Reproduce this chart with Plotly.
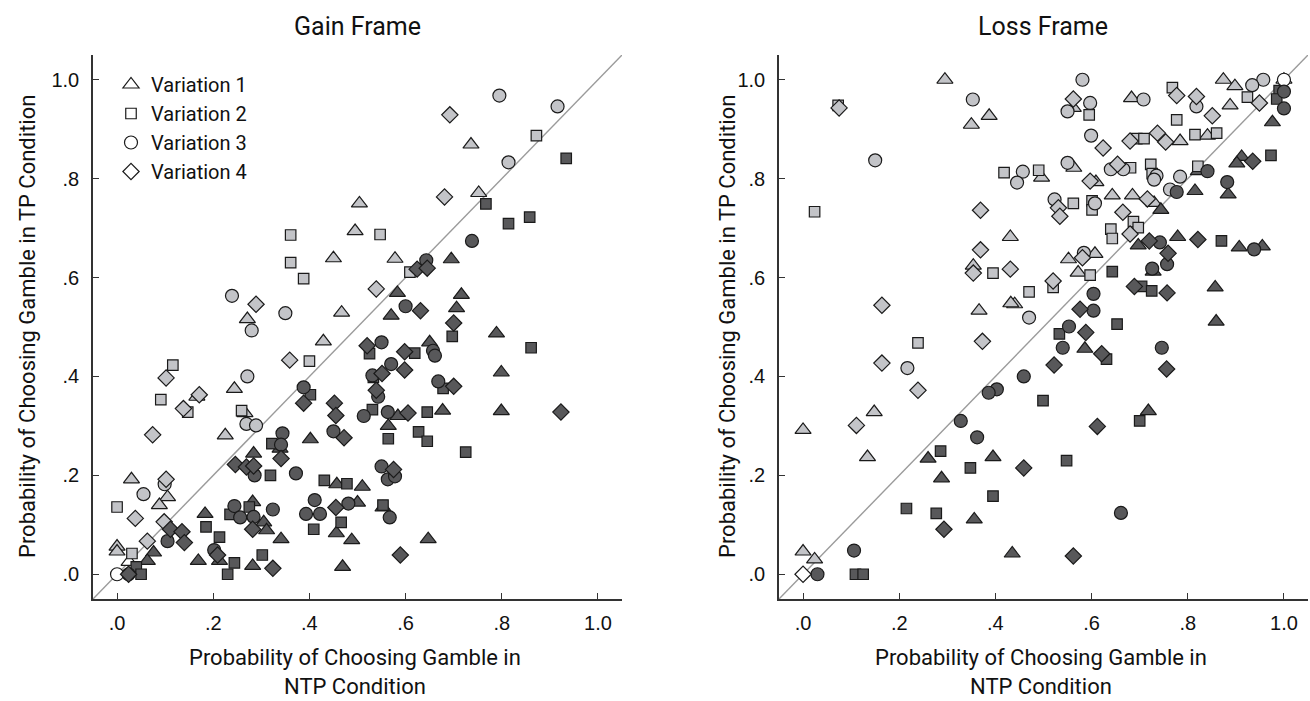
import plotly.graph_objects as go

# ---------------- data (NTP = x, TP = y) ----------------
gain_v1_ntp = [0.504,0.495,0.450,0.467,0.271,0.736,0.752,0.578,0.695,0.583,0.570,0.716,0.706,0.789,0.650,0.799,0.584,0.677,0.799,0.564,0.510,0.500,0.553,0.488,0.647,0.429,0.244,0.166,0.266,0.225,0.402,0.339,0.284,0.457,0.030,0.105,0.088,0.000,0.000,0.025,0.076,0.063,0.183,0.282,0.305,0.311,0.169,0.213,0.282,0.341,0.456,0.469]
gain_v1_tp  = [0.750,0.694,0.639,0.529,0.516,0.869,0.771,0.638,0.637,0.569,0.523,0.565,0.538,0.487,0.469,0.408,0.320,0.331,0.330,0.300,0.177,0.145,0.135,0.069,0.071,0.471,0.375,0.359,0.326,0.281,0.273,0.254,0.244,0.182,0.192,0.156,0.140,0.056,0.046,0.025,0.044,0.027,0.122,0.146,0.105,0.089,0.027,0.027,0.017,0.071,0.083,0.015]

gain_v2_ntp = [0.361,0.361,0.388,0.872,0.934,0.767,0.814,0.858,0.547,0.609,0.697,0.861,0.525,0.619,0.533,0.678,0.531,0.645,0.564,0.627,0.645,0.725,0.553,0.400,0.116,0.091,0.147,0.259,0.000,0.031,0.402,0.322,0.319,0.431,0.478,0.040,0.050,0.185,0.213,0.235,0.275,0.244,0.230,0.302,0.409,0.466]
gain_v2_tp  = [0.686,0.630,0.598,0.887,0.841,0.749,0.709,0.722,0.687,0.611,0.481,0.458,0.446,0.447,0.398,0.376,0.333,0.328,0.274,0.288,0.269,0.247,0.140,0.431,0.423,0.353,0.328,0.331,0.136,0.042,0.363,0.264,0.200,0.190,0.183,0.015,0.000,0.096,0.075,0.121,0.136,0.023,0.000,0.039,0.091,0.105]

gain_v3_ntp = [0.239,0.350,0.280,0.795,0.916,0.814,0.738,0.643,0.600,0.550,0.657,0.661,0.570,0.531,0.543,0.668,0.513,0.563,0.550,0.563,0.578,0.567,0.271,0.269,0.289,0.388,0.450,0.344,0.341,0.286,0.372,0.099,0.055,0.105,0.000,0.024,0.244,0.256,0.284,0.324,0.202,0.393,0.422,0.411,0.481]
gain_v3_tp  = [0.563,0.528,0.493,0.968,0.946,0.833,0.674,0.635,0.542,0.469,0.452,0.442,0.425,0.402,0.359,0.390,0.320,0.328,0.218,0.192,0.198,0.115,0.400,0.304,0.301,0.378,0.289,0.285,0.262,0.200,0.204,0.182,0.162,0.067,0.000,0.000,0.138,0.115,0.116,0.131,0.049,0.122,0.122,0.150,0.143]

gain_v4_ntp = [0.289,0.692,0.681,0.624,0.645,0.539,0.631,0.700,0.520,0.598,0.551,0.598,0.539,0.700,0.605,0.923,0.575,0.589,0.359,0.102,0.171,0.138,0.074,0.388,0.452,0.455,0.472,0.341,0.246,0.269,0.284,0.102,0.038,0.098,0.111,0.135,0.140,0.063,0.024,0.282,0.209,0.324,0.455]
gain_v4_tp  = [0.546,0.929,0.763,0.617,0.619,0.577,0.533,0.508,0.462,0.450,0.406,0.413,0.372,0.380,0.326,0.328,0.212,0.039,0.433,0.397,0.363,0.335,0.282,0.346,0.346,0.321,0.276,0.234,0.222,0.217,0.219,0.192,0.113,0.106,0.091,0.086,0.064,0.067,0.000,0.091,0.039,0.012,0.135]

loss_v1_ntp = [0.295,0.387,0.350,0.496,0.431,0.354,0.440,0.432,0.366,0.148,0.000,0.134,0.260,0.395,0.288,0.356,0.435,0.000,0.024,0.859,0.586,0.718,0.874,0.898,0.888,0.976,0.683,0.562,0.784,0.841,0.563,0.822,0.609,0.815,0.884,0.912,0.902,0.643,0.685,0.730,0.744,0.697,0.779,0.907,0.955,0.728,0.552,0.607,0.572,0.857,1.000]
loss_v1_tp  = [1.000,0.927,0.909,0.802,0.682,0.624,0.546,0.548,0.533,0.328,0.292,0.237,0.234,0.237,0.194,0.111,0.042,0.046,0.030,0.511,0.456,0.330,1.000,0.987,0.948,0.914,0.963,0.943,0.876,0.887,0.822,0.815,0.793,0.775,0.768,0.844,0.831,0.766,0.766,0.751,0.737,0.665,0.682,0.661,0.663,0.612,0.637,0.648,0.610,0.580,1.000]

loss_v2_ntp = [0.073,0.418,0.490,0.024,0.395,0.470,0.239,0.499,0.286,0.348,0.395,0.215,0.277,0.109,0.125,0.533,0.653,0.631,0.700,0.548,0.990,0.924,0.985,0.768,0.777,0.595,0.694,0.709,0.815,0.860,0.681,0.723,0.726,0.821,0.973,0.562,0.601,0.601,0.687,0.697,0.640,0.643,0.870,0.597,0.643,0.704,0.725,0.520]
loss_v2_tp  = [0.948,0.812,0.817,0.733,0.609,0.571,0.468,0.351,0.249,0.215,0.158,0.133,0.123,0.000,0.000,0.486,0.506,0.435,0.310,0.230,0.978,0.965,0.961,0.984,0.919,0.929,0.881,0.881,0.889,0.892,0.822,0.829,0.810,0.825,0.847,0.750,0.755,0.737,0.713,0.701,0.698,0.679,0.674,0.605,0.612,0.582,0.573,0.580]

loss_v3_ntp = [0.353,0.150,0.457,0.445,0.470,0.217,0.459,0.403,0.386,0.328,0.362,0.106,0.030,0.553,0.540,0.746,0.661,0.581,0.957,0.934,1.000,1.000,1.000,0.818,0.708,0.597,0.550,0.599,0.550,0.640,0.666,0.735,0.730,0.784,0.841,0.763,0.777,0.882,0.938,0.742,0.757,0.726,0.584,0.523,0.604,0.604,0.607]
loss_v3_tp  = [0.960,0.837,0.814,0.792,0.519,0.417,0.400,0.374,0.367,0.310,0.277,0.048,0.000,0.501,0.458,0.458,0.124,1.000,1.000,0.989,1.000,0.976,0.942,0.946,0.960,0.953,0.936,0.887,0.832,0.819,0.819,0.806,0.798,0.804,0.815,0.778,0.773,0.793,0.657,0.671,0.627,0.618,0.650,0.758,0.567,0.533,0.750]

loss_v4_ntp = [0.075,0.369,0.369,0.354,0.431,0.164,0.373,0.164,0.239,0.111,0.459,0.293,0.000,0.588,0.621,0.522,0.756,0.612,0.562,0.777,0.818,0.851,0.949,0.562,0.624,0.680,0.737,0.754,0.597,0.654,0.935,0.531,0.534,0.716,0.665,0.680,0.720,0.821,0.759,0.581,0.689,0.757,0.520,0.576]
loss_v4_tp  = [0.943,0.736,0.656,0.609,0.617,0.544,0.471,0.427,0.372,0.301,0.215,0.091,0.000,0.489,0.446,0.423,0.415,0.299,0.037,0.968,0.966,0.927,0.953,0.961,0.862,0.876,0.892,0.874,0.795,0.829,0.835,0.741,0.724,0.759,0.732,0.688,0.674,0.677,0.649,0.640,0.582,0.569,0.593,0.536]

variation_names = ["Variation 1", "Variation 2", "Variation 3", "Variation 4"]
tick_vals = [0.0, 0.2, 0.4, 0.6, 0.8, 1.0]
tick_text = [".0", ".2", ".4", ".6", ".8", "1.0"]
axis_range = [-0.05, 1.05]

# ---------------- styles ----------------
W, H = 1310, 701
LIGHT = "#c3c4c8"
DARK = "#58585a"
WHITE = "#ffffff"
EDGE = "#1a1a1a"
NARROW = "Liberation Sans Narrow, Roboto, sans-serif"
REG = "Liberation Sans, Arial, Helvetica, sans-serif"
symbols = ["triangle-up", "square", "circle", "diamond"]
sizes = [14, 10.5, 13, 12.5]


def fills(ntp, tp):
    out = []
    for a, b in zip(ntp, tp):
        out.append(LIGHT if b > a else (DARK if b < a else WHITE))
    return out


def px_x(p):
    return p / W


def px_y(p):
    return 1 - p / H


fig = go.Figure()

panels = [
    ("x", "y", [(gain_v1_ntp, gain_v1_tp), (gain_v2_ntp, gain_v2_tp),
                (gain_v3_ntp, gain_v3_tp), (gain_v4_ntp, gain_v4_tp)]),
    ("x2", "y2", [(loss_v1_ntp, loss_v1_tp), (loss_v2_ntp, loss_v2_tp),
                  (loss_v3_ntp, loss_v3_tp), (loss_v4_ntp, loss_v4_tp)]),
]

for xa, ya, series in panels:
    fig.add_trace(go.Scatter(x=axis_range, y=axis_range, mode="lines",
                             line=dict(color="#9b9b9b", width=1.4),
                             xaxis=xa, yaxis=ya, showlegend=False, hoverinfo="skip"))
    for i, (ntp, tp) in enumerate(series):
        fig.add_trace(go.Scatter(
            x=ntp, y=tp, mode="markers", xaxis=xa, yaxis=ya, showlegend=False,
            name=variation_names[i],
            marker=dict(symbol=symbols[i], size=sizes[i], color=fills(ntp, tp),
                        line=dict(color=EDGE, width=1.2))))

# legend entries (open markers)
for i, name in enumerate(variation_names):
    fig.add_trace(go.Scatter(x=[None], y=[None], mode="markers", name=name,
                             xaxis="x", yaxis="y",
                             marker=dict(symbol=symbols[i], size=sizes[i], color=WHITE,
                                         line=dict(color=EDGE, width=1.2))))

plot_top, plot_bot = 55, 599
ydom = [px_y(plot_bot), px_y(plot_top)]

axis_common = dict(range=axis_range, tickvals=tick_vals, ticktext=tick_text,
                   showline=True, linecolor="#333333", linewidth=1.5,
                   ticks="inside", ticklen=6, tickwidth=1.3, tickcolor="#333333",
                   showgrid=False, zeroline=False, mirror=False, fixedrange=True,
                   tickfont=dict(family=REG, size=20, color="#111111"),
                   automargin=False)

fig.update_layout(
    width=W, height=H, plot_bgcolor="white", paper_bgcolor="white",
    margin=dict(l=0, r=0, t=0, b=0),
    xaxis=dict(domain=[px_x(93), px_x(622)], anchor="y", ticklabelstandoff=5, **axis_common),
    yaxis=dict(domain=ydom, anchor="x", ticklabelstandoff=8, **axis_common),
    xaxis2=dict(domain=[px_x(779), px_x(1308)], anchor="y2", ticklabelstandoff=5, **axis_common),
    yaxis2=dict(domain=ydom, anchor="x2", ticklabelstandoff=8, **axis_common),
    legend=dict(x=px_x(111), y=px_y(65), xanchor="left", yanchor="top",
                font=dict(family=NARROW, size=20, color="#111111"),
                bgcolor="rgba(0,0,0,0)", borderwidth=0, tracegroupgap=0,
                itemclick=False, itemdoubleclick=False),
    showlegend=True,
)

ann = []
for cx, title in [(357, "Gain Frame"), (1043, "Loss Frame")]:
    ann.append(dict(text=title, x=px_x(cx), y=px_y(27), xref="paper", yref="paper",
                    xanchor="center", yanchor="middle", showarrow=False,
                    font=dict(family=NARROW, size=25, color="#111111")))
for cx in (355, 1041):
    ann.append(dict(text="Probability of Choosing Gamble in<br>NTP Condition",
                    x=px_x(cx), y=px_y(672), xref="paper", yref="paper",
                    xanchor="center", yanchor="middle", showarrow=False,
                    font=dict(family=NARROW, size=22, color="#111111")))
for cx in (28, 728):
    ann.append(dict(text="Probability of Choosing Gamble in TP Condition",
                    x=px_x(cx), y=px_y(327), xref="paper", yref="paper",
                    xanchor="center", yanchor="middle", showarrow=False, textangle=-90,
                    font=dict(family=NARROW, size=22, color="#111111")))
fig.update_layout(annotations=ann)

fig.write_html("out.html", config={"displayModeBar": False},
               post_script="document.body.style.margin='0';document.body.style.overflow='hidden';")
